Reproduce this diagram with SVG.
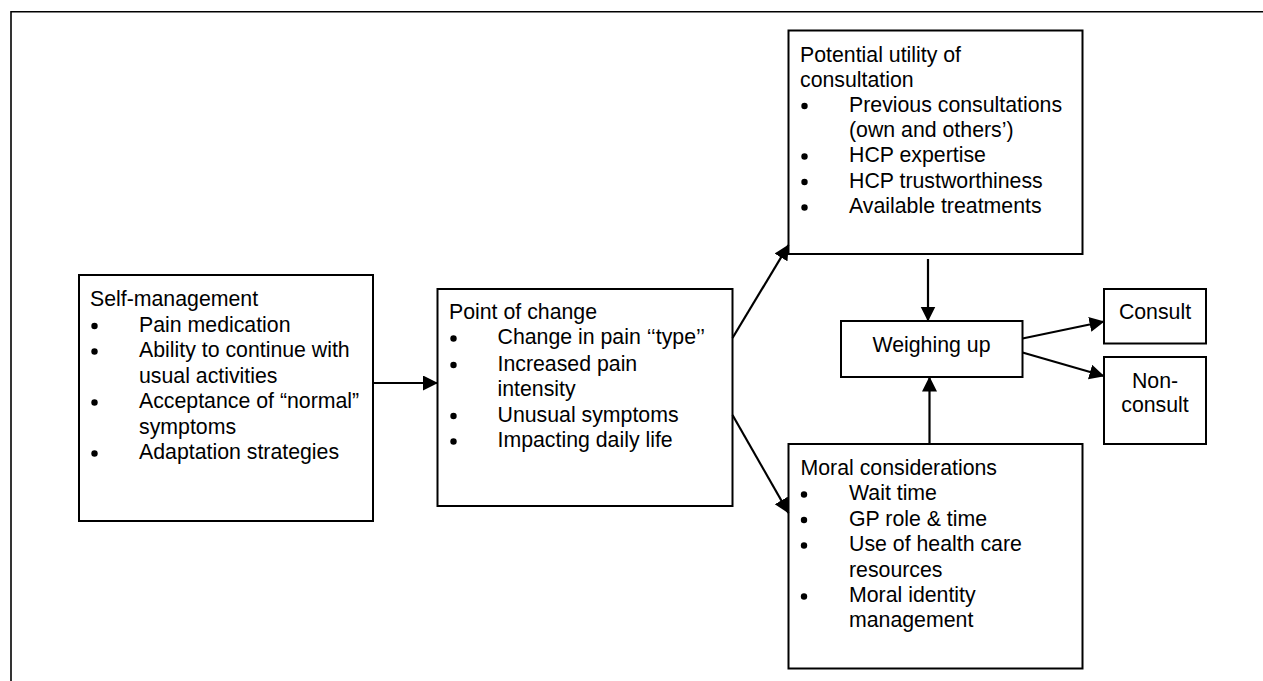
<svg xmlns="http://www.w3.org/2000/svg" width="1263" height="681" viewBox="0 0 1263 681">
<style>
.box{fill:#fff;stroke:#000;stroke-width:2}
.t{font-family:"Liberation Sans",Arial,sans-serif;font-size:21.3px;fill:#000}
.c{text-anchor:middle}
.b{fill:#000}
.conn line{stroke:#000;stroke-width:2.2;marker-end:url(#ah)}
</style>
<defs>
<marker id="ah" markerUnits="userSpaceOnUse" markerWidth="16" markerHeight="16" refX="14.5" refY="7.5" orient="auto">
<path d="M0,0 L15,7.5 L0,15 z" fill="#000"/>
</marker>
</defs>
<rect width="1263" height="681" fill="#fff"/>
<g id="frame">
<line x1="11" y1="11.8" x2="1263" y2="11.8" stroke="#000" stroke-width="1.6"/>
<line x1="11" y1="11" x2="11" y2="681" stroke="#000" stroke-width="1.6"/>
</g>
<g id="self-management">
<rect class="box" x="79" y="275" width="294" height="246"/>
<text class="t" x="90" y="306">Self-management</text>
<circle class="b" cx="94.5" cy="326" r="3.2"/><text class="t" x="139" y="331.5">Pain medication</text>
<circle class="b" cx="94.5" cy="351.5" r="3.2"/><text class="t" x="139" y="357">Ability to continue with</text>
<text class="t" x="139" y="382.5">usual activities</text>
<circle class="b" cx="94.5" cy="402.5" r="3.2"/><text class="t" x="139" y="408">Acceptance of “normal”</text>
<text class="t" x="139" y="433.5">symptoms</text>
<circle class="b" cx="94.5" cy="453.5" r="3.2"/><text class="t" x="139" y="459">Adaptation strategies</text>
</g>
<g id="point-of-change">
<rect class="box" x="437.5" y="289" width="295" height="217"/>
<text class="t" x="449" y="318.5">Point of change</text>
<circle class="b" cx="453.5" cy="338.5" r="3.2"/><text class="t" x="497.5" y="344">Change in pain ‘‘type’’</text>
<circle class="b" cx="453.5" cy="365" r="3.2"/><text class="t" x="497.5" y="370.5">Increased pain</text>
<text class="t" x="497.5" y="396">intensity</text>
<circle class="b" cx="453.5" cy="416" r="3.2"/><text class="t" x="497.5" y="421.5">Unusual symptoms</text>
<circle class="b" cx="453.5" cy="441.5" r="3.2"/><text class="t" x="497.5" y="447">Impacting daily life</text>
</g>
<g id="potential-utility">
<rect class="box" x="788.5" y="30.5" width="294" height="223.5"/>
<text class="t" x="800" y="61.5">Potential utility of</text>
<text class="t" x="800" y="86.5">consultation</text>
<circle class="b" cx="804.5" cy="106" r="3.2"/><text class="t" x="849" y="111.5">Previous consultations</text>
<text class="t" x="849" y="137">(own and others’)</text>
<circle class="b" cx="804.5" cy="156.5" r="3.2"/><text class="t" x="849" y="162">HCP expertise</text>
<circle class="b" cx="804.5" cy="182" r="3.2"/><text class="t" x="849" y="187.5">HCP trustworthiness</text>
<circle class="b" cx="804.5" cy="207.5" r="3.2"/><text class="t" x="849" y="213">Available treatments</text>
</g>
<g id="weighing-up">
<rect class="box" x="841" y="321" width="181.5" height="56"/>
<text class="t c" x="931.5" y="351.5">Weighing up</text>
</g>
<g id="consult">
<rect class="box" x="1104" y="289" width="102" height="54.5"/>
<text class="t c" x="1155" y="319">Consult</text>
</g>
<g id="non-consult">
<rect class="box" x="1104" y="357" width="102" height="87"/>
<text class="t c" x="1155" y="388">Non-</text>
<text class="t c" x="1155" y="412">consult</text>
</g>
<g id="moral-considerations">
<rect class="box" x="788.5" y="444" width="294" height="224.5"/>
<text class="t" x="800.5" y="474.5">Moral considerations</text>
<circle class="b" cx="804" cy="494.5" r="3.2"/><text class="t" x="849" y="500">Wait time</text>
<circle class="b" cx="804" cy="520" r="3.2"/><text class="t" x="849" y="525.5">GP role &amp; time</text>
<circle class="b" cx="804" cy="545.5" r="3.2"/><text class="t" x="849" y="551">Use of health care</text>
<text class="t" x="849" y="576.5">resources</text>
<circle class="b" cx="804" cy="596.5" r="3.2"/><text class="t" x="849" y="602">Moral identity</text>
<text class="t" x="849" y="627">management</text>
</g>
<g id="connectors" class="conn">
<line x1="373" y1="383" x2="437.5" y2="383"/>
<line x1="732.5" y1="338" x2="788.5" y2="245"/>
<line x1="732.5" y1="415" x2="788.5" y2="513"/>
<line x1="928" y1="259" x2="928" y2="321"/>
<line x1="929.5" y1="444" x2="929.5" y2="377"/>
<line x1="1022.5" y1="338.5" x2="1104" y2="321.5"/>
<line x1="1022.5" y1="352.5" x2="1104" y2="376"/>
</g>
</svg>
